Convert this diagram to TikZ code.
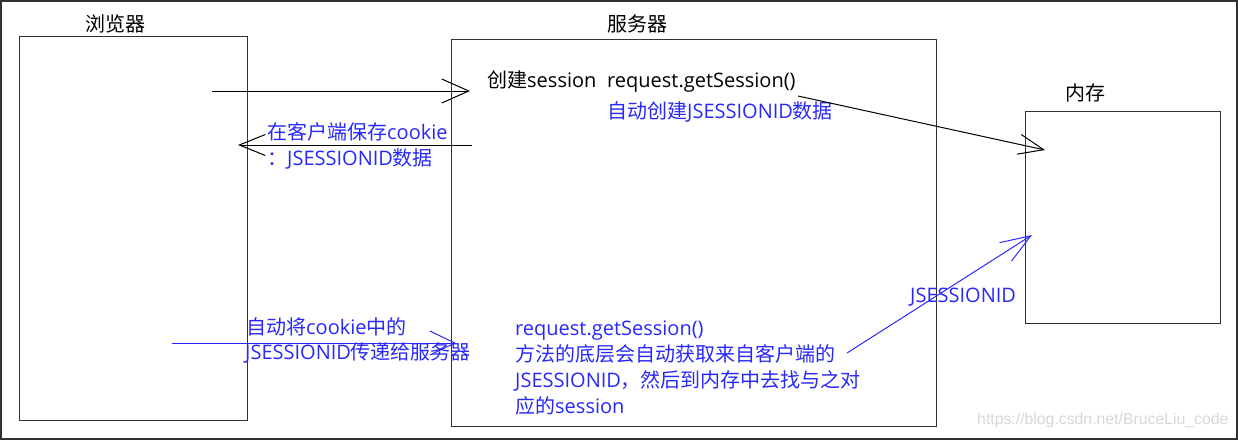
\documentclass[tikz,border=0pt]{standalone}
\usepackage{fontspec}
\setmainfont{Noto Sans CJK SC}
\newfontfamily\lat{Open Sans}
\newfontfamily\wm{Liberation Sans}
\usetikzlibrary{arrows.meta}
\definecolor{tblue}{RGB}{40,40,250}
\definecolor{boxgray}{RGB}{50,50,50}
\definecolor{wmgray}{RGB}{215,215,215}
\newcommand{\latw}[1]{{\lat #1}}
\tikzset{
  box/.style={draw=boxgray, line width=1.3pt, anchor=north west, inner sep=0pt},
  txt/.style={anchor=base west, inner sep=0pt, font=\fontsize{20}{20}\selectfont},
  btxt/.style={txt, text=tblue},
  blkarrow/.style={draw=black, line width=1pt},
  bluarrow/.style={draw=tblue, line width=1pt},
}
\begin{document}
\begin{tikzpicture}[x=1pt,y=-1pt]
\useasboundingbox (0,0) rectangle (1238,440);
\draw[draw=boxgray, line width=1.8pt] (1,1) rectangle (1237,439);
% boxes
\node[box, minimum width=228pt, minimum height=384pt] (browser) at (19,36) {};
\node[box, minimum width=485pt, minimum height=387pt] (server) at (451,39) {};
\node[box, minimum width=195pt, minimum height=212pt] (memory) at (1025,110.5) {};
% titles
\node[txt] (tb) at (85,31) {浏览器};
\node[txt] (ts) at (607,31) {服务器};
\node[txt] (tm) at (1065,100) {内存};
% server texts
\node[txt] (create) at (487,87) {创建\latw{session}};
\node[txt] (req) at (607,87) {\latw{request.getSession()}};
\node[btxt] (auto) at (607,118) {自动创建\latw{JSESSIONID}数据};
\node[btxt] (save1) at (267,139) {在客户端保存\latw{cookie}};
\node[btxt] (save2) at (267,165) {：\latw{JSESSIONID}数据};
\node[btxt] (pass1) at (246,334) {自动将\latw{cookie}中的};
\node[btxt] (pass2) at (245,359) {\latw{JSESSIONID}传递给服务器};
\node[btxt] (b1) at (515,335) {\latw{request.getSession()}};
\node[btxt] (b2) at (515,361) {方法的底层会自动获取来自客户端的};
\node[btxt] (b3) at (515,387) {\latw{JSESSIONID}，然后到内存中去找与之对};
\node[btxt] (b4) at (515,413) {应的\latw{session}};
\node[btxt] (jid) at (910,302) {\latw{JSESSIONID}};
\node[anchor=base west, inner sep=0pt, text=wmgray, font=\wm\fontsize{15.8}{15.8}\selectfont] (wmk) at (977,424) {https://blog.csdn.net/BruceLiu\_code};
% arrow coordinates
\coordinate (a1s) at (212,91);
\coordinate (a1e) at (470,91);
\coordinate (a2s) at (472,145);
\coordinate (a2e) at (238,145);
\coordinate (a3s) at (798,96);
\coordinate (a3e) at (1045,150);
\coordinate (a4s) at (172,343);
\coordinate (a4e) at (456,343);
\coordinate (a5s) at (847,353);
\coordinate (a5e) at (1032,235);
% arrows
\draw[blkarrow, -{Straight Barb[length=27pt,width=24pt]}] (a1s) -- (a1e);
\draw[blkarrow, -{Straight Barb[length=26pt,width=21pt]}] (a2s) -- (a2e);
\draw[blkarrow, -{Straight Barb[length=25pt,width=20pt]}] (a3s) -- (a3e);
\draw[bluarrow, -{Straight Barb[length=25pt,width=24pt]}] (a4s) -- (a4e);
\draw[bluarrow, -{Straight Barb[length=30pt,width=22pt]}] (a5s) -- (a5e);
\end{tikzpicture}
\end{document}
